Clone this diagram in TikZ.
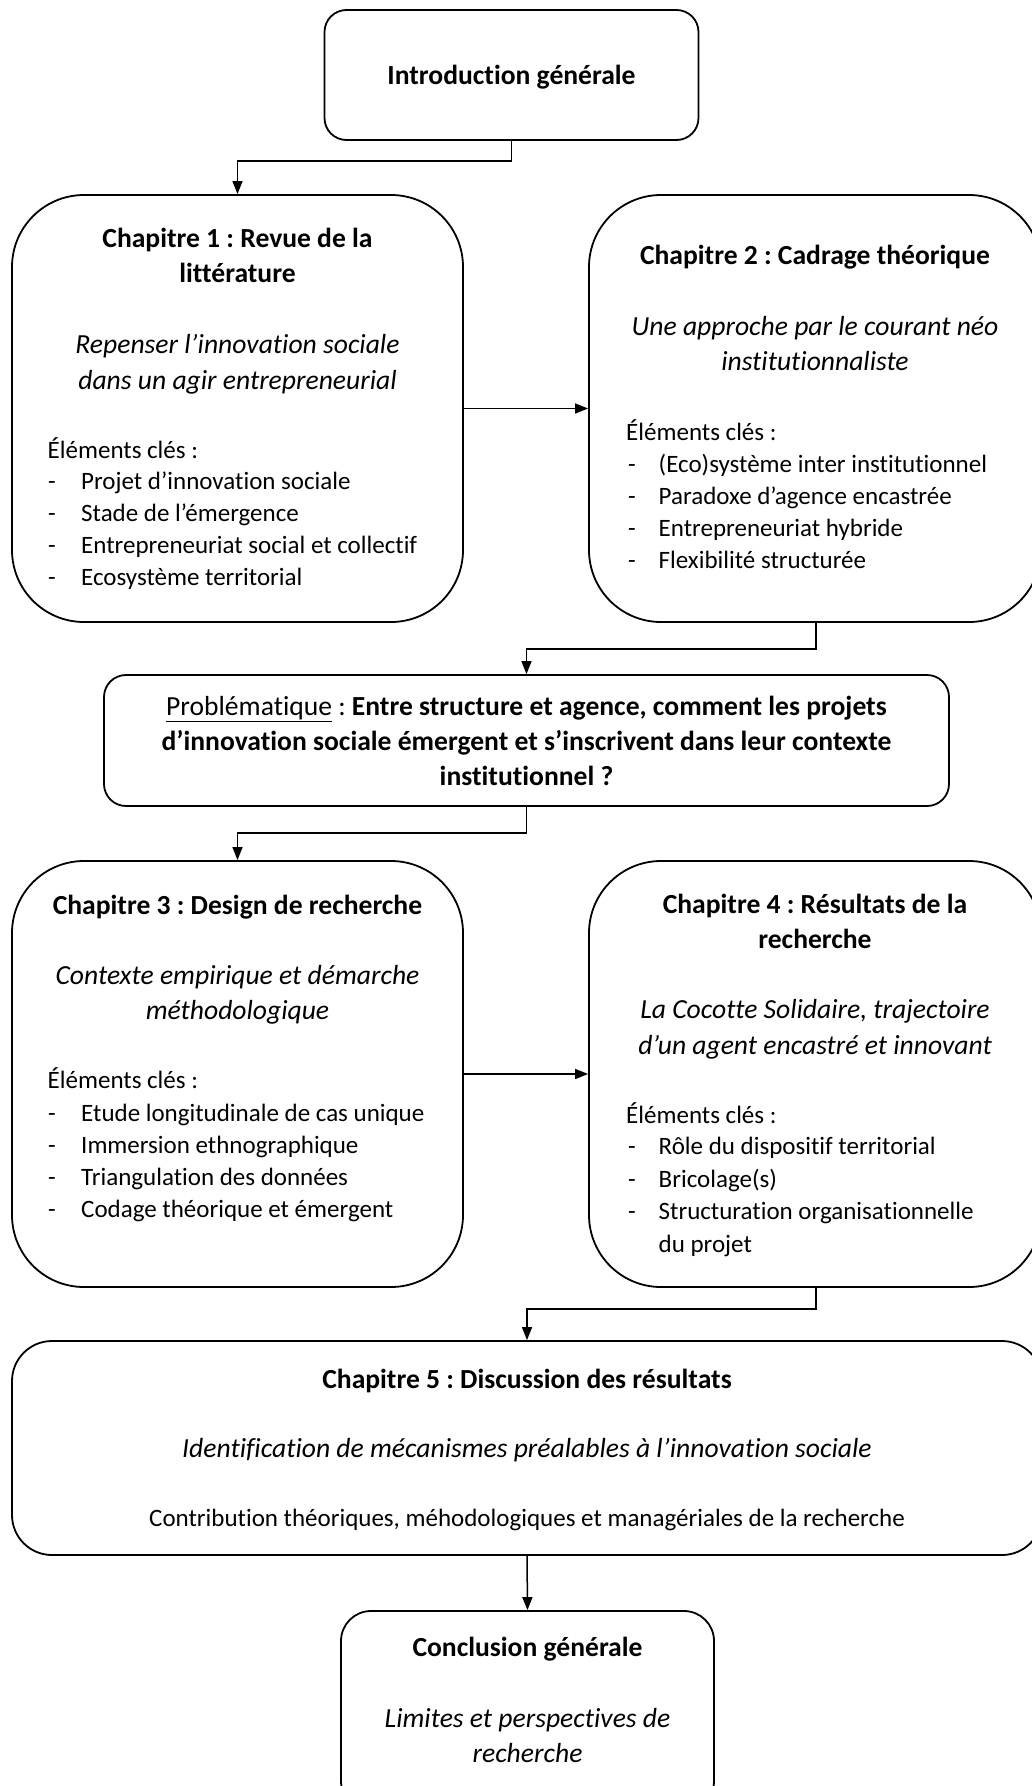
\documentclass[tikz,border=0pt]{standalone}
\usepackage{fontspec}
\setmainfont{Carlito}[Ligatures=CommonOff]
\usetikzlibrary{arrows.meta}
\frenchspacing
\begin{document}
\begin{tikzpicture}[x=1pt,y=-1pt,
  box/.style={draw, line width=1.8pt, rounded corners=#1, inner sep=0pt, fill=white},
  ttl/.style={inner sep=0pt, anchor=base, font=\fontsize{27.6}{33}\selectfont\bfseries},
  itl/.style={inner sep=0pt, anchor=base, font=\fontsize{27.6}{33}\selectfont\itshape},
  prb/.style={inner sep=0pt, anchor=base, font=\fontsize{27.6}{33}\selectfont},
  pln/.style={inner sep=0pt, anchor=base, font=\fontsize{25}{30}\selectfont},
  lft/.style={inner sep=0pt, anchor=base west, font=\fontsize{25}{30}\selectfont},
  conn/.style={line width=1.5pt, -{Triangle[length=13pt,width=10pt]}}]
\useasboundingbox (0,0) rectangle (1032,1786);

% boxes
\node[box=22pt, minimum width=374pt, minimum height=130pt] (intro) at (511.5,75) {};
\node[box=72pt, minimum width=451pt, minimum height=427pt] (ch1) at (237.5,408.5) {};
\node[box=72pt, minimum width=452pt, minimum height=427pt] (ch2) at (815,408.5) {};
\node[box=22pt, minimum width=845pt, minimum height=131pt] (prob) at (526.5,740.5) {};
\node[box=72pt, minimum width=451pt, minimum height=426pt] (ch3) at (237.5,1074) {};
\node[box=72pt, minimum width=452pt, minimum height=426pt] (ch4) at (815,1074) {};
\node[box=40pt, minimum width=1030pt, minimum height=214pt] (ch5) at (527,1448) {};
\node[box=30pt, minimum width=373pt, minimum height=200pt] (concl) at (527.5,1711) {};

% intro
\node[ttl] (tintro) at (511.5,84) {Introduction générale};

% chapter 1
\node[ttl] (t1a) at (237.5,247) {Chapitre 1 : Revue de la};
\node[ttl] (t1b) at (237.5,282) {littérature};
\node[itl] (i1a) at (237.5,353) {Repenser l’innovation sociale};
\node[itl] (i1b) at (237.5,389) {dans un agir entrepreneurial};
\node[lft] (e1) at (47.5,458) {Éléments clés :};
\node[lft] (d1a) at (48,489) {-};
\node[lft] (l1a) at (81,489) {Projet d’innovation sociale};
\node[lft] (d1b) at (48,521) {-};
\node[lft] (l1b) at (81,521) {Stade de l’émergence};
\node[lft] (d1c) at (48,553) {-};
\node[lft] (l1c) at (81,553) {Entrepreneuriat social et collectif};
\node[lft] (d1d) at (48,585) {-};
\node[lft] (l1d) at (81,585) {Ecosystème territorial};

% chapter 2
\node[ttl] (t2a) at (815,264) {Chapitre 2 : Cadrage théorique};
\node[itl] (i2a) at (815,335) {Une approche par le courant néo};
\node[itl] (i2b) at (815,370) {institutionnaliste};
\node[lft] (e2) at (626,440) {Éléments clés :};
\node[lft] (d2a) at (628,472) {-};
\node[lft] (l2a) at (658.5,472) {(Eco)système inter institutionnel};
\node[lft] (d2b) at (628,504.5) {-};
\node[lft] (l2b) at (658.5,504.5) {Paradoxe d’agence encastrée};
\node[lft] (d2c) at (628,536.5) {-};
\node[lft] (l2c) at (658.5,536.5) {Entrepreneuriat hybride};
\node[lft] (d2d) at (628,568.5) {-};
\node[lft] (l2d) at (658.5,568.5) {Flexibilité structurée};

% problematique
\node[prb] (p1) at (526.5,715) {\underline{Problématique} : \textbf{Entre structure et agence, comment les projets}};
\node[prb] (p2) at (526.5,750) {\textbf{d’innovation sociale émergent et s’inscrivent dans leur contexte}};
\node[prb] (p3) at (526.5,785) {\textbf{institutionnel ?}};

% chapter 3
\node[ttl] (t3a) at (237.5,914) {Chapitre 3 : Design de recherche};
\node[itl] (i3a) at (237.5,984) {Contexte empirique et démarche};
\node[itl] (i3b) at (237.5,1019) {méthodologique};
\node[lft] (e3) at (47.5,1088) {Éléments clés :};
\node[lft] (d3a) at (48,1121.5) {-};
\node[lft] (l3a) at (81,1121.5) {Etude longitudinale de cas unique};
\node[lft] (d3b) at (48,1153) {-};
\node[lft] (l3b) at (81,1153) {Immersion ethnographique};
\node[lft] (d3c) at (48,1185) {-};
\node[lft] (l3c) at (81,1185) {Triangulation des données};
\node[lft] (d3d) at (48,1217) {-};
\node[lft] (l3d) at (81,1217) {Codage théorique et émergent};

% chapter 4
\node[ttl] (t4a) at (815,913) {Chapitre 4 : Résultats de la};
\node[ttl] (t4b) at (815,948) {recherche};
\node[itl] (i4a) at (815,1018) {La Cocotte Solidaire, trajectoire};
\node[itl] (i4b) at (815,1054) {d’un agent encastré et innovant};
\node[lft] (e4) at (626,1123) {Éléments clés :};
\node[lft] (d4a) at (628,1154.5) {-};
\node[lft] (l4a) at (658.5,1154.5) {Rôle du dispositif territorial};
\node[lft] (d4b) at (628,1187) {-};
\node[lft] (l4b) at (658.5,1187) {Bricolage(s)};
\node[lft] (d4c) at (628,1219.5) {-};
\node[lft] (l4c) at (658.5,1219.5) {Structuration organisationnelle};
\node[lft] (l4d) at (658.5,1252.5) {du projet};

% chapter 5
\node[ttl] (t5a) at (527,1388) {Chapitre 5 : Discussion des résultats};
\node[itl] (i5a) at (527,1457) {Identification de mécanismes préalables à l’innovation sociale};
\node[pln] (p5a) at (527,1526) {Contribution théoriques, méhodologiques et managériales de la recherche};

% conclusion
\node[ttl] (tc) at (527.5,1656) {Conclusion générale};
\node[itl] (ic1) at (527.5,1727) {Limites et perspectives de};
\node[itl] (ic2) at (527.5,1762) {recherche};

% connectors
\coordinate (k1) at (511.5,161);
\coordinate (k2) at (237.5,161);
\draw[conn] (intro.south) -- (k1) -- (k2) -- (ch1.north);
\draw[conn] (ch1.east) -- (ch2.west);
\coordinate (k3) at (816,649);
\coordinate (k4) at (526.5,649);
\draw[conn] (ch2.south -| k3) -- (k3) -- (k4) -- (prob.north);
\coordinate (k5) at (526.5,833);
\coordinate (k6) at (237.5,833);
\draw[conn] (prob.south) -- (k5) -- (k6) -- (ch3.north);
\draw[conn] (ch3.east) -- (ch4.west);
\coordinate (k7) at (816,1309);
\coordinate (k8) at (527,1309);
\draw[conn] (ch4.south -| k7) -- (k7) -- (k8) -- (ch5.north);
\draw[conn] (ch5.south) -- (concl.north);
\end{tikzpicture}
\end{document}
